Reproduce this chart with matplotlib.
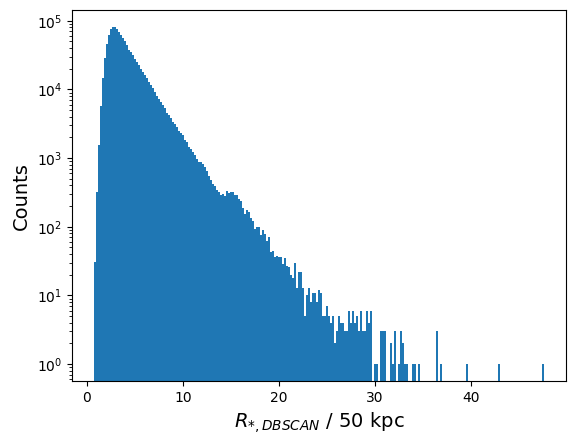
import numpy as np
import matplotlib
matplotlib.use("Agg")
import matplotlib.pyplot as plt

# histogram of R_*,DBSCAN / 50 kpc, counts per bin
x_start = 0.77
bin_width = 0.208
n_bins = 225

dense_counts = [
    31, 316, 1550, 5800, 14500, 29000, 46000, 62000, 76000, 81000, 81000,
    76000, 69000, 62000, 56000, 50000, 44000, 38000, 35000, 31500, 28000,
    25000, 22500, 20000, 18200, 16000, 14500, 12900, 11500, 10400, 9300,
    8100, 7200, 6600, 5900, 5400, 4600, 4300, 3900, 3400, 3100, 2800, 2500,
    2300, 2150, 1850, 1700, 1450, 1380, 1230, 1120, 980, 890, 870, 810, 740,
    650, 550, 480, 420, 390, 340, 316, 290,
    300, 280, 330, 310, 320,
    316, 295, 295, 250, 234, 190, 155, 173, 166, 135, 123, 93, 100, 100,
    76, 91, 79, 62, 71, 43, 45, 36, 37, 36, 36, 29, 35, 27, 26, 20, 18, 30,
    13, 22, 22, 13, 5, 10, 13, 8, 11, 11, 8, 12, 11, 5, 5, 7, 5, 4, 5, 2,
    3, 5, 4, 4, 3, 3, 6, 4, 6,
    4, 5, 3, 6, 3, 3, 6, 4, 6,
]

sparse_bins = [140, 141, 143, 144, 145, 148, 149, 150, 152, 153, 154, 155,
               156, 159, 160, 162, 171, 173, 186, 202, 224]
sparse_counts = [1, 1, 3, 3, 3, 2, 1, 3, 1, 3, 2, 1,
                 1, 1, 1, 1, 3, 1, 1, 1, 1]

counts = np.zeros(n_bins)
counts[:len(dense_counts)] = dense_counts
counts[sparse_bins] = sparse_counts
edges = x_start + bin_width * np.arange(n_bins + 1)

fig = plt.figure(figsize=(5.75, 4.44), dpi=100)
ax = fig.add_axes([0.125, 0.142, 0.86, 0.835])
ax.hist(edges[:-1], bins=edges, weights=counts, log=True, color='#1f77b4')
ax.set_xlabel(r'$R_{*,DBSCAN}$ / 50 kpc', fontsize=14)
ax.set_ylabel('Counts', fontsize=14)
fig.savefig('out.png')
